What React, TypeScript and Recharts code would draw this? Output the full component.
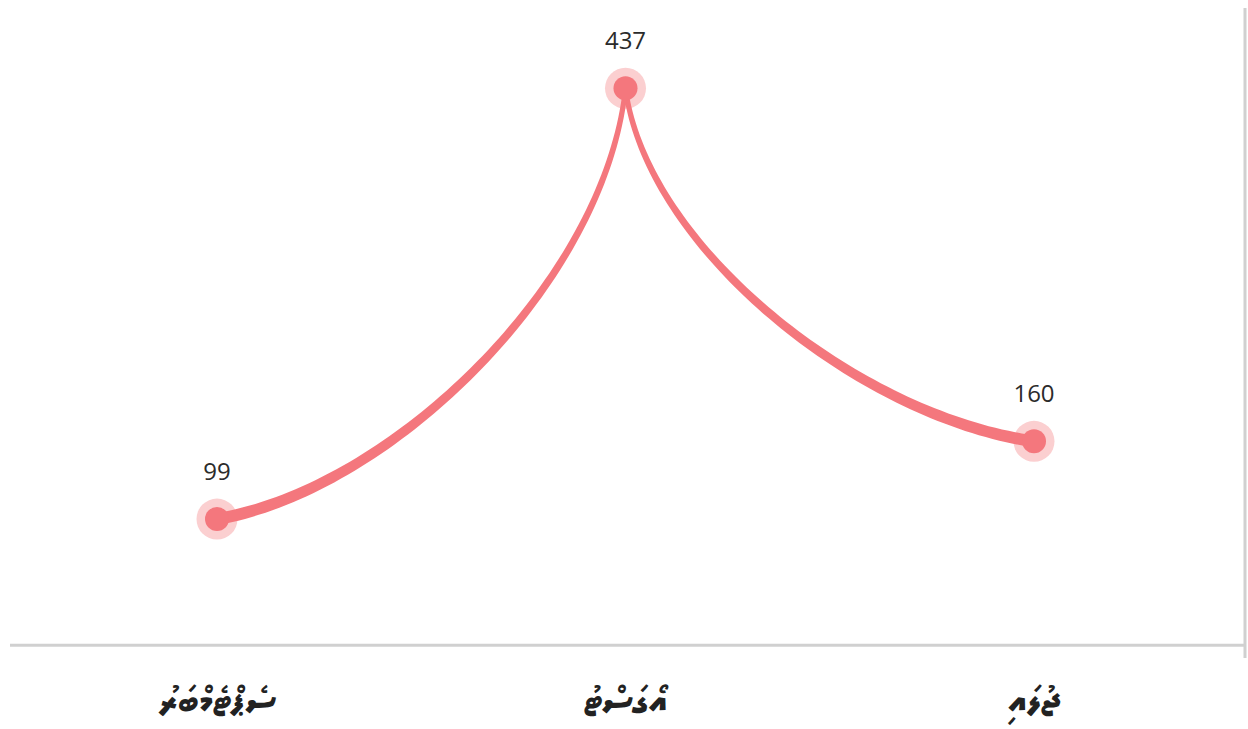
import React from "react";
import { LabelList, Line, LineChart, ReferenceLine, XAxis, YAxis } from "recharts";

// months are written in Dhivehi, read right to left (July on the right)
const MONTHS = ["ޖުލައި", "އޯގަސްޓު", "ސެޕްޓެމްބަރު"];
const COUNTS = [160, 437, 99];
const Y_DOMAIN: [number, number] = [-10, 500];

const data = MONTHS.map((month, i) => ({ month, count: COUNTS[i] }));

const LINE = "#f4777d";
const HALO = "#fbcfd0";
const AXIS = "#d0d0d0";
const TEXT = "#2b2b2b";
const THIN = 5;
const THICK = 12;

type Pt = { x: number; y: number; value?: number };

function bez(p0: number, p1: number, p2: number, p3: number, t: number) {
  const u = 1 - t;
  return u * u * u * p0 + 3 * u * u * t * p1 + 3 * u * t * t * p2 + t * t * t * p3;
}
function bezD(p0: number, p1: number, p2: number, p3: number, t: number) {
  const u = 1 - t;
  return 3 * u * u * (p1 - p0) + 6 * u * t * (p2 - p1) + 3 * t * t * (p3 - p2);
}

// tapered curve: near-vertical tangent at the higher end, flat at the lower end
function segmentPath(a: Pt, b: Pt, wa: number, wb: number) {
  const dx = b.x - a.x;
  const dy = b.y - a.y;
  const aHigh = a.y < b.y;
  const hi = [0.05, 0.45];
  const lo = [0.43, 0.07];
  const c1 = aHigh ? { x: a.x + hi[0] * dx, y: a.y + hi[1] * dy } : { x: a.x + lo[0] * dx, y: a.y + lo[1] * dy };
  const c2 = aHigh ? { x: b.x - lo[0] * dx, y: b.y - lo[1] * dy } : { x: b.x - hi[0] * dx, y: b.y - hi[1] * dy };
  const left: string[] = [];
  const right: string[] = [];
  const n = 80;
  for (let i = 0; i <= n; i++) {
    const t = i / n;
    const x = bez(a.x, c1.x, c2.x, b.x, t);
    const y = bez(a.y, c1.y, c2.y, b.y, t);
    const tx = bezD(a.x, c1.x, c2.x, b.x, t);
    const ty = bezD(a.y, c1.y, c2.y, b.y, t);
    const len = Math.hypot(tx, ty) || 1;
    const hw = (wa + (wb - wa) * t) / 2;
    const nx = (-ty / len) * hw;
    const ny = (tx / len) * hw;
    left.push(`${(x + nx).toFixed(2)},${(y + ny).toFixed(2)}`);
    right.unshift(`${(x - nx).toFixed(2)},${(y - ny).toFixed(2)}`);
  }
  return `M${left.join("L")}L${right.join("L")}Z`;
}

const renderDot = (props: any) => {
  const { cx, cy, index, points } = props;
  if (cx == null || cy == null) return <g key={`dot-${index}`} />;
  if (index === 0 && Array.isArray(points)) {
    const pts: Pt[] = points;
    const max = Math.max(...pts.map((p) => Number(p.value)));
    const w = (p: Pt) => (Number(p.value) === max ? THIN : THICK);
    return (
      <g key={`dot-${index}`}>
        {pts.map((p, i) => (
          <circle key={`h${i}`} cx={p.x} cy={p.y} r={20.5} fill={HALO} />
        ))}
        {pts.slice(1).map((p, i) => (
          <path key={`s${i}`} d={segmentPath(pts[i], p, w(pts[i]), w(p))} fill={LINE} />
        ))}
        <circle cx={cx} cy={cy} r={12} fill={LINE} />
      </g>
    );
  }
  return (
    <g key={`dot-${index}`}>
      <circle cx={cx} cy={cy} r={12} fill={LINE} />
    </g>
  );
};

export default function App() {
  return (
    <div style={{ position: "absolute", left: 0, top: 0, background: "#fff" }}>
      <LineChart width={1248} height={729} data={data} margin={{ top: 8, right: 0, left: 10, bottom: 0 }}>
        <XAxis
          dataKey="month"
          reversed
          interval={0}
          padding={{ left: 207, right: 211 }}
          axisLine={false}
          tickLine={false}
          height={71}
          tickMargin={22}
          tick={{ fontSize: 38, fontWeight: 700, fill: "#222", fontFamily: "'Noto Sans Thaana', 'DejaVu Sans', sans-serif" }}
        />
        <YAxis
          orientation="right"
          width={3}
          domain={Y_DOMAIN}
          tick={false}
          tickLine={false}
          axisLine={{ stroke: AXIS, strokeWidth: 3 }}
        />
        <ReferenceLine y={0} stroke={AXIS} strokeWidth={3} />
        <Line
          dataKey="count"
          type="linear"
          stroke="none"
          strokeWidth={0}
          dot={renderDot}
          activeDot={false}
          isAnimationActive={false}
        >
          <LabelList dataKey="count" position="top" offset={39} fill={TEXT} fontSize={24} fontFamily="'Open Sans', sans-serif" />
        </Line>
      </LineChart>
    </div>
  );
}
